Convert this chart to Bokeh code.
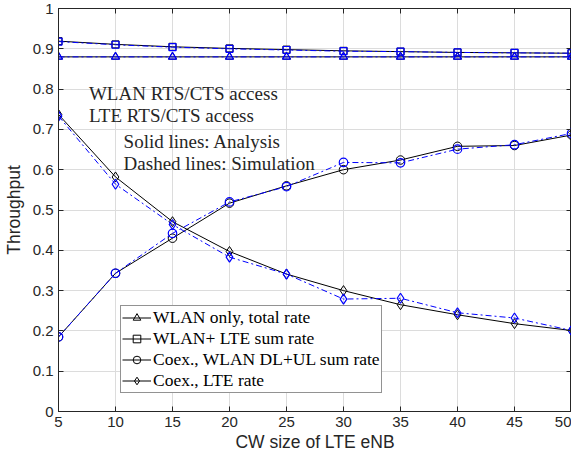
from bokeh.plotting import figure
from bokeh.models import (Range1d, FixedTicker, LinearAxis, Legend, LegendItem, Label,
                          CustomJSTickFormatter)
from bokeh.embed import file_html
from bokeh.resources import INLINE

cw = [5, 10, 15, 20, 25, 30, 35, 40, 45, 50]

wlan_only_ana = [0.880, 0.880, 0.880, 0.880, 0.880, 0.880, 0.880, 0.880, 0.880, 0.880]
wlan_only_sim = [0.880, 0.880, 0.880, 0.880, 0.880, 0.880, 0.880, 0.880, 0.880, 0.880]
sum_ana = [0.919, 0.911, 0.905, 0.901, 0.898, 0.895, 0.893, 0.891, 0.890, 0.889]
sum_sim = [0.918, 0.910, 0.904, 0.900, 0.897, 0.894, 0.893, 0.891, 0.890, 0.889]
coex_wlan_ana = [0.185, 0.343, 0.430, 0.517, 0.560, 0.600, 0.624, 0.658, 0.660, 0.686]
coex_wlan_sim = [0.185, 0.343, 0.442, 0.520, 0.558, 0.618, 0.617, 0.651, 0.662, 0.690]
coex_lte_ana = [0.737, 0.582, 0.471, 0.397, 0.341, 0.300, 0.265, 0.240, 0.218, 0.201]
coex_lte_sim = [0.733, 0.564, 0.464, 0.383, 0.341, 0.279, 0.281, 0.245, 0.232, 0.201]

x_ticks = [5, 10, 15, 20, 25, 30, 35, 40, 45, 50]
y_ticks = [0, 0.1, 0.2, 0.3, 0.4, 0.5, 0.6, 0.7, 0.8, 0.9, 1]

AX = "#262626"
SANS = "Liberation Sans"
SERIF = "Liberation Serif"

p = figure(width=571, height=454, output_backend="svg", toolbar_location=None,
           x_range=Range1d(5, 50), y_range=Range1d(0, 1),
           min_border_left=56, min_border_right=0, min_border_top=8, min_border_bottom=42)
p.outline_line_color = AX
p.outline_line_width = 1

for ax in (p.xaxis[0], p.yaxis[0]):
    ax.major_tick_in = 5
    ax.major_tick_out = 0
    ax.minor_tick_line_color = None
    ax.axis_line_color = AX
    ax.major_tick_line_color = AX
    ax.major_label_text_color = AX
    ax.major_label_text_font = SANS
    ax.major_label_text_font_size = "15px"
    ax.axis_label_text_font = SANS
    ax.axis_label_text_font_size = "17.5px"
    ax.axis_label_text_font_style = "normal"
    ax.axis_label_text_color = AX

p.xaxis[0].ticker = FixedTicker(ticks=x_ticks)
p.yaxis[0].ticker = FixedTicker(ticks=y_ticks)
p.yaxis[0].formatter = CustomJSTickFormatter(code="return (Math.round(tick*10)/10).toString();")
p.xaxis[0].axis_label = "CW size of LTE eNB"
p.yaxis[0].axis_label = "Throughput"
p.xaxis[0].major_label_standoff = 5
p.yaxis[0].major_label_standoff = 5
p.xaxis[0].axis_label_standoff = 2
p.yaxis[0].axis_label_standoff = 6

for loc, tk in (("above", x_ticks), ("right", y_ticks)):
    a = LinearAxis(ticker=FixedTicker(ticks=tk), major_tick_in=5, major_tick_out=0,
                   minor_tick_line_color=None, major_label_text_font_size="0px",
                   axis_line_color=AX, major_tick_line_color=AX, major_label_standoff=0)
    p.add_layout(a, loc)

p.xgrid.ticker = FixedTicker(ticks=x_ticks)
p.ygrid.ticker = FixedTicker(ticks=y_ticks)
p.grid.grid_line_color = "#dcdcdc"
p.grid.grid_line_width = 1

series = [
    (wlan_only_ana, wlan_only_sim, "triangle", 8, "WLAN only, total rate"),
    (sum_ana, sum_sim, "square", 7, "WLAN+ LTE sum rate"),
    (coex_wlan_ana, coex_wlan_sim, "circle", 8.5, "Coex., WLAN DL+UL sum rate"),
    (coex_lte_ana, coex_lte_sim, "diamond", 10, "Coex., LTE rate"),
]

items = []
for ana, sim, mk, sz, lab in series:
    l = p.line(cw, ana, line_color="black", line_width=1)
    s = p.scatter(cw, ana, marker=mk, size=sz, fill_color=None, line_color="black", line_width=1)
    items.append(LegendItem(label=lab, renderers=[l, s]))
for ana, sim, mk, sz, lab in series:
    p.line(cw, sim, line_color="#0000ff", line_width=1, line_dash="6 3 2 3")
    p.scatter(cw, sim, marker=mk, size=sz, fill_color=None, line_color="#0000ff", line_width=1.2)

legend = Legend(items=items, location=(62, 18), label_text_font=SERIF,
                label_text_font_size="17.5px", label_text_color="black",
                glyph_width=29, glyph_height=19, label_height=19, spacing=0,
                padding=1, margin=0, label_standoff=2,
                border_line_color=AX, border_line_width=1,
                background_fill_color="white", background_fill_alpha=1)
p.add_layout(legend, "center")

for txt, x, y, fs in [("WLAN RTS/CTS access", 7.67, 0.789, "19px"),
                      ("LTE RTS/CTS access", 7.67, 0.734, "19px"),
                      ("Solid lines: Analysis", 10.71, 0.670, "19px"),
                      ("Dashed lines: Simulation", 10.71, 0.615, "19px")]:
    p.add_layout(Label(x=x, y=y, text=txt, text_font=SERIF, text_font_size=fs,
                       text_color=AX, text_baseline="alphabetic"))

open("out.html", "w").write(file_html(p, INLINE))
